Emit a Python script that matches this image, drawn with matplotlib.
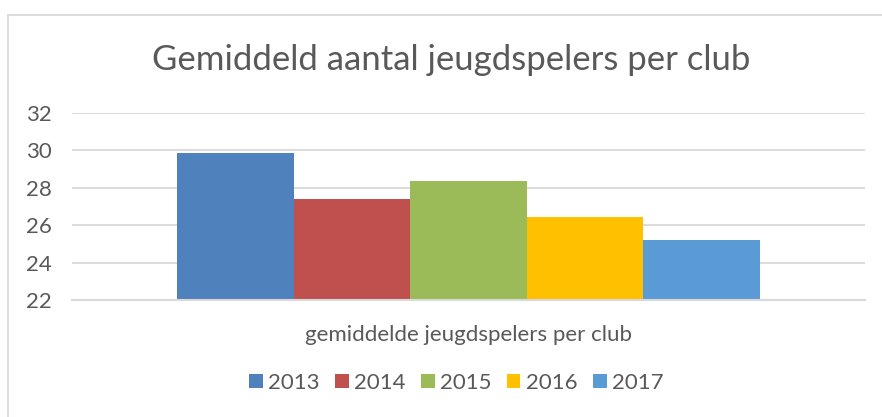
import matplotlib.pyplot as plt
from matplotlib.lines import Line2D

# data
years = ['2013', '2014', '2015', '2016', '2017']
values = [29.85, 27.4, 28.35, 26.45, 25.2]
colors = ['#4F81BD', '#C0504D', '#9BBB59', '#FFC000', '#5B9BD5']
category = 'gemiddelde jeugdspelers per club'
yticks = [22, 24, 26, 28, 30, 32]

plt.rcParams['font.family'] = ['Lato', 'DejaVu Sans']
text_col = '#595959'
grid_col = '#D9D9D9'

fig = plt.figure(figsize=(8.82, 4.17), dpi=100)
ax = fig.add_axes([72 / 882, 1 - 300 / 417, (865 - 72) / 882, (300 - 113) / 417])

# one category, five bars side by side
for i, (yr, v, c) in enumerate(zip(years, values, colors)):
    ax.bar(i - 2, v - 22, bottom=22, width=1.0, color=c, label=yr, zorder=3)

ax.set_ylim(22, 32)
ax.set_xlim(-3.4, 3.4)
ax.set_yticks(yticks)
ax.set_xticks([0])
ax.set_xticklabels([category])
ax.tick_params(axis='both', length=0, labelsize=16, colors=text_col)
ax.tick_params(axis='x', pad=18)
ax.tick_params(axis='y', pad=33)
for lbl in ax.get_yticklabels():
    lbl.set_horizontalalignment('left')
ax.yaxis.grid(True, color=grid_col, linewidth=1.3, zorder=0)
for s in ['top', 'right', 'left']:
    ax.spines[s].set_visible(False)
ax.spines['bottom'].set_color(grid_col)
ax.spines['bottom'].set_linewidth(1.5)
ax.spines['bottom'].set_zorder(4)

fig.text(0.511, 1 - 60 / 417, 'Gemiddeld aantal jeugdspelers per club',
         ha='center', va='center', fontsize=25, color=text_col)

fig.legend(loc='center', bbox_to_anchor=(0.5176, 1 - 383 / 417), ncol=5,
           frameon=False, fontsize=16, labelcolor=text_col,
           handlelength=0.6, handleheight=0.6, handletextpad=0.25,
           columnspacing=0.7)

# chart border
fig.add_artist(Line2D([8 / 882, 8 / 882], [0, 1 - 15 / 417], transform=fig.transFigure,
                      color=grid_col, linewidth=1.3))
fig.add_artist(Line2D([8 / 882, 1], [1 - 15 / 417, 1 - 15 / 417], transform=fig.transFigure,
                      color=grid_col, linewidth=1.3))

fig.savefig('out.png', dpi=100)
